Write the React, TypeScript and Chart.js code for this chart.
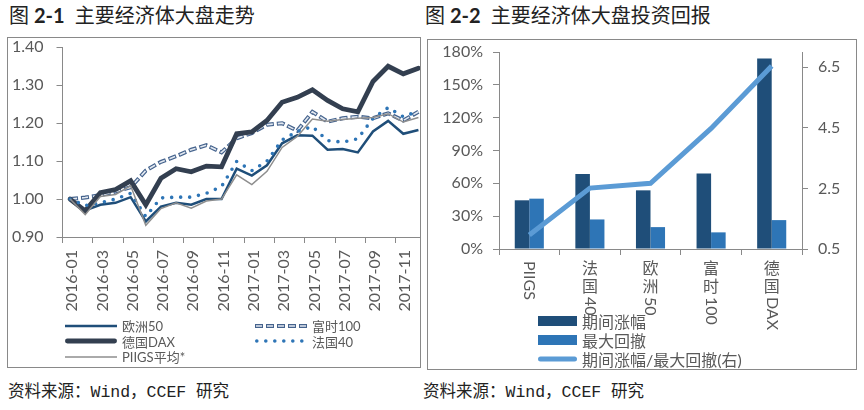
import React, { useEffect, useRef } from 'react';
import { Chart, registerables } from 'chart.js';

Chart.register(...registerables);

// ---------- Data: chart 2-1 (index levels, 2016-01 = 1.00) ----------
const months = [
  '2016-01', '2016-02', '2016-03', '2016-04', '2016-05', '2016-06',
  '2016-07', '2016-08', '2016-09', '2016-10', '2016-11', '2016-12',
  '2017-01', '2017-02', '2017-03', '2017-04', '2017-05', '2017-06',
  '2017-07', '2017-08', '2017-09', '2017-10', '2017-11', '2017-12',
];
const euro50 = [1.00, 0.970, 0.985, 0.990, 1.005, 0.941, 0.980, 0.990, 0.985, 1.000, 1.000, 1.080,
  1.062, 1.089, 1.147, 1.168, 1.167, 1.130, 1.132, 1.123, 1.178, 1.206, 1.172, 1.182];
const ftse100 = [1.00, 1.004, 1.010, 1.020, 1.031, 1.075, 1.098, 1.113, 1.130, 1.142, 1.123, 1.160,
  1.174, 1.196, 1.200, 1.180, 1.230, 1.204, 1.213, 1.217, 1.213, 1.226, 1.207, 1.230];
const daxIndex = [1.00, 0.969, 1.017, 1.025, 1.048, 0.985, 1.055, 1.080, 1.072, 1.087, 1.085, 1.172,
  1.177, 1.207, 1.255, 1.268, 1.288, 1.260, 1.238, 1.230, 1.310, 1.350, 1.330, 1.345];
const cac40 = [1.00, 0.983, 0.990, 1.000, 1.015, 0.954, 1.003, 1.005, 1.005, 1.015, 1.033, 1.099,
  1.075, 1.100, 1.156, 1.178, 1.191, 1.154, 1.150, 1.159, 1.213, 1.241, 1.217, 1.232];
const piigsAvg = [1.00, 0.959, 1.007, 1.012, 1.035, 0.931, 0.975, 0.990, 0.976, 0.995, 1.000, 1.064,
  1.038, 1.073, 1.136, 1.165, 1.211, 1.205, 1.210, 1.213, 1.215, 1.225, 1.203, 1.215];

// ---------- Data: chart 2-2 ----------
const retCategories = ['PIIGS', '法国40', '欧洲50', '富时100', '德国DAX'];
const periodGain = [44.5, 68.5, 53.6, 69.0, 174.0]; // %
const maxDrawdown = [46.0, 27.0, 20.0, 15.2, 26.4]; // %
const gainToDrawdown = [0.96, 2.51, 2.67, 4.48, 6.54];
const rightAxisTicks = [0.5, 2.5, 4.5, 6.5];

// ---------- Styles ----------
const AXIS = '#898989';
const TXT = '#595959';
const LATIN = 'Lato, "Noto Sans", "Noto Sans CJK SC", sans-serif';
const CJK = '"Noto Sans CJK SC", sans-serif';

type LineStyle = {
  label: string; data: number[]; color: string; width: number;
  dash: number[]; cap: CanvasLineCap; order: number;
  inner?: { color: string; width: number; dash: number[]; offset: number };
};

const trendSeries: LineStyle[] = [
  { label: '欧洲50', data: euro50, color: '#1F4E79', width: 2.5, dash: [], cap: 'butt', order: 5 },
  { label: '富时100', data: ftse100, color: '#45638D', width: 4, dash: [8, 3], cap: 'butt', order: 4,
    inner: { color: '#E2E8F0', width: 1.6, dash: [6, 5], offset: -1 } },
  { label: '德国DAX', data: daxIndex, color: '#333F50', width: 4.8, dash: [], cap: 'round', order: 3 },
  { label: '法国40', data: cac40, color: '#2E75B6', width: 3.6, dash: [0, 9], cap: 'round', order: 2 },
  { label: 'PIIGS平均*', data: piigsAvg, color: '#8E8E8E', width: 1.5, dash: [], cap: 'butt', order: 1 },
];

const legendSlots = [
  { idx: 0, col: 0, row: 0 }, { idx: 1, col: 1, row: 0 },
  { idx: 2, col: 0, row: 1 }, { idx: 3, col: 1, row: 1 },
  { idx: 4, col: 0, row: 2 },
];

const innerStrokePlugin = {
  id: 'innerStroke',
  afterDatasetDraw(chart: any, args: any) {
    const s = trendSeries.find((t) => t.label === chart.data.datasets[args.index].label);
    if (!s || !s.inner) return;
    const pts = args.meta.data;
    const ctx: CanvasRenderingContext2D = chart.ctx;
    const a = chart.chartArea;
    ctx.save();
    ctx.beginPath();
    ctx.rect(a.left, a.top - 4, a.right - a.left, a.bottom - a.top + 8);
    ctx.clip();
    ctx.beginPath();
    pts.forEach((p: any, i: number) => (i ? ctx.lineTo(p.x, p.y) : ctx.moveTo(p.x, p.y)));
    ctx.setLineDash(s.inner.dash);
    ctx.lineDashOffset = s.inner.offset;
    ctx.strokeStyle = s.inner.color;
    ctx.lineWidth = s.inner.width;
    ctx.lineJoin = 'miter';
    ctx.stroke();
    ctx.restore();
  },
};

const stackedLabelsPlugin = {
  id: 'stackedLabels',
  afterDraw(chart: any) {
    const xs = chart.scales.x;
    const ctx: CanvasRenderingContext2D = chart.ctx;
    ctx.save();
    ctx.font = '16px ' + LATIN;
    ctx.fillStyle = TXT;
    retCategories.forEach((lab, i) => {
      const x = xs.getPixelForValue(i);
      let y = xs.top + 12;
      const runs = lab.match(/[\u4e00-\u9fff]|[^\u4e00-\u9fff]+/g) || [];
      runs.forEach((run) => {
        if (/[\u4e00-\u9fff]/.test(run)) {
          ctx.textAlign = 'center';
          ctx.textBaseline = 'top';
          ctx.fillText(run, x, y);
          y += 18;
        } else {
          const w = ctx.measureText(run).width;
          ctx.save();
          ctx.translate(x, y);
          ctx.rotate(Math.PI / 2);
          ctx.textAlign = 'left';
          ctx.textBaseline = 'middle';
          ctx.fillText(run, 0, 0);
          ctx.restore();
          y += w;
        }
      });
    });
    ctx.restore();
  },
};

function LineSample({ s, w }: { s: LineStyle; w: number }) {
  return (
    <svg width={w} height={10} style={{ display: 'block', flex: 'none' }}>
      <line x1={s.cap === 'round' ? s.width / 2 : 0} y1={5} x2={s.cap === 'round' ? w - s.width / 2 : w} y2={5}
        stroke={s.color} strokeWidth={s.width}
        strokeDasharray={s.dash.length ? s.dash.join(' ') : undefined}
        strokeLinecap={s.cap} />
      {s.inner && (
        <line x1={0} y1={5} x2={w} y2={5} stroke={s.inner.color} strokeWidth={s.inner.width}
          strokeDasharray={s.inner.dash.join(' ')} strokeDashoffset={s.inner.offset} />
      )}
    </svg>
  );
}

export default function App() {
  const leftRef = useRef<HTMLCanvasElement>(null);
  const rightRef = useRef<HTMLCanvasElement>(null);

  useEffect(() => {
    const tickFont = { family: LATIN, size: 16 };
    const fixVertical = (w: number) => (sc: any) => { sc.width = w; sc.paddingTop = 0; sc.paddingBottom = 0; };
    const fixHorizontal = (h: number) => (sc: any) => { sc.height = h; sc.paddingLeft = 0; sc.paddingRight = 0; };

    const c1 = new Chart(leftRef.current as HTMLCanvasElement, {
      type: 'line',
      data: {
        labels: months,
        datasets: trendSeries.map((s) => ({
          label: s.label,
          data: s.data,
          borderColor: s.color,
          backgroundColor: s.color,
          borderWidth: s.width,
          borderDash: s.dash,
          borderCapStyle: s.cap,
          pointRadius: 0,
          tension: 0,
          fill: false,
          order: s.order,
        })),
      },
      options: {
        animation: false,
        responsive: false,
        maintainAspectRatio: false,
        layout: { padding: { left: 0, right: 12, top: 9.3, bottom: 0 } },
        plugins: { legend: { display: false }, tooltip: { enabled: false } },
        scales: {
          x: {
            type: 'category',
            offset: true,
            grid: {
              offset: true, drawOnChartArea: false, tickLength: 6,
              color: (ctx: any) => (typeof ctx.index === 'number' && ctx.index % 2 === 0 ? AXIS : 'rgba(0,0,0,0)'),
            },
            border: { display: true, color: AXIS, width: 1 },
            ticks: {
              autoSkip: false, maxRotation: 90, minRotation: 90, padding: 7, labelOffset: 2,
              color: TXT, font: tickFont,
              callback: (_v: any, i: number) => (i % 2 === 0 ? months[i] : ''),
            },
            afterFit: fixHorizontal(130),
          },
          y: {
            min: 0.9, max: 1.4,
            ticks: { stepSize: 0.1, padding: 13, color: TXT, font: tickFont,
              callback: (v: any) => Number(v).toFixed(2) },
            grid: { drawOnChartArea: false, tickLength: 6, color: AXIS },
            border: { display: true, color: AXIS, width: 1 },
            afterFit: fixVertical(54.5),
          },
        },
      },
      plugins: [innerStrokePlugin],
    } as any);

    const c2 = new Chart(rightRef.current as HTMLCanvasElement, {
      type: 'bar',
      data: {
        labels: retCategories,
        datasets: [
          { type: 'bar', label: '期间涨幅', data: periodGain, backgroundColor: '#1F4E79', yAxisID: 'y',
            categoryPercentage: 0.48, barPercentage: 1, order: 1 },
          { type: 'bar', label: '最大回撤', data: maxDrawdown, backgroundColor: '#2E75B6', yAxisID: 'y',
            categoryPercentage: 0.48, barPercentage: 1, order: 1 },
          { type: 'line', label: '期间涨幅/最大回撤(右)', data: gainToDrawdown, borderColor: '#5B9BD5',
            backgroundColor: '#5B9BD5', borderWidth: 5, pointRadius: 0, tension: 0, yAxisID: 'y1',
            borderCapStyle: 'butt', order: 0 },
        ],
      },
      options: {
        animation: false,
        responsive: false,
        maintainAspectRatio: false,
        layout: { padding: { left: 0, right: 0, top: 12, bottom: 0 } },
        plugins: { legend: { display: false }, tooltip: { enabled: false } },
        scales: {
          x: {
            type: 'category',
            offset: true,
            grid: { offset: true, drawOnChartArea: false, tickLength: 6, color: AXIS },
            border: { display: true, color: AXIS, width: 1 },
            ticks: { display: false },
            afterFit: fixHorizontal(120),
          },
          y: {
            position: 'left',
            min: 0, max: 180,
            ticks: { stepSize: 30, padding: 10, color: TXT, font: tickFont,
              callback: (v: any) => v + '%' },
            grid: { drawOnChartArea: false, tickLength: 6, color: AXIS },
            border: { display: true, color: AXIS, width: 1 },
            afterFit: fixVertical(71),
          },
          y1: {
            position: 'right',
            min: 0.5, max: 7,
            afterBuildTicks: (axis: any) => { axis.ticks = rightAxisTicks.map((v) => ({ value: v })); },
            ticks: { padding: 10, color: TXT, font: tickFont,
              callback: (v: any) => Number(v).toFixed(1) },
            grid: { drawOnChartArea: false, tickLength: 6, color: AXIS },
            border: { display: true, color: AXIS, width: 1 },
            afterFit: fixVertical(54),
          },
        },
      },
      plugins: [stackedLabelsPlugin],
    } as any);

    return () => { c1.destroy(); c2.destroy(); };
  }, []);

  const titleStyle: React.CSSProperties = {
    position: 'absolute', top: 4, fontSize: 20, lineHeight: '22px', fontFamily: CJK,
    color: '#222', whiteSpace: 'nowrap',
  };
  const sourceStyle: React.CSSProperties = {
    position: 'absolute', top: 382, fontSize: 16.5, lineHeight: '22px',
    fontFamily: '"Liberation Mono", "Noto Sans CJK SC", monospace', color: '#222', whiteSpace: 'nowrap',
  };
  const boxStyle: React.CSSProperties = {
    position: 'absolute', border: '1px solid ' + AXIS, boxSizing: 'border-box', overflow: 'hidden',
    background: '#fff',
  };

  const rightLegend = [
    { label: '期间涨幅', kind: 'rect', color: '#1F4E79' },
    { label: '最大回撤', kind: 'rect', color: '#2E75B6' },
    { label: '期间涨幅/最大回撤(右)', kind: 'line', color: '#5B9BD5' },
  ];

  return (
    <div style={{ position: 'absolute', left: 0, top: 0, width: 864, height: 410, background: '#fff', overflow: 'hidden' }}>
      <div style={{ ...titleStyle, left: 9 }}>
        图<span style={{ fontFamily: LATIN, fontWeight: 700, marginLeft: 5 }}>2-1</span>
        <span style={{ marginLeft: 10 }}>主要经济体大盘走势</span>
      </div>
      <div style={{ ...titleStyle, left: 425 }}>
        图<span style={{ fontFamily: LATIN, fontWeight: 700, marginLeft: 5 }}>2-2</span>
        <span style={{ marginLeft: 10 }}>主要经济体大盘投资回报</span>
      </div>

      {/* Left chart */}
      <div style={{ ...boxStyle, left: 7, top: 37, width: 414, height: 331 }}>
        <canvas ref={leftRef} width={430} height={329} style={{ display: 'block', position: 'absolute', left: 0, top: 0 }} />
        {legendSlots.map(({ idx, col, row }) => {
          const s = trendSeries[idx];
          return (
            <div key={s.label} style={{
              position: 'absolute', left: 65 - 8 + col * 190, top: 318 - 38 + row * 15.5, height: 15.5,
              display: 'flex', alignItems: 'center', fontSize: 13, fontFamily: LATIN, color: TXT, whiteSpace: 'nowrap',
            }}>
              <LineSample s={s} w={52} />
              <span style={{ marginLeft: 5 }}>{s.label}</span>
            </div>
          );
        })}
      </div>

      {/* Right chart */}
      <div style={{ ...boxStyle, left: 427, top: 39, width: 430, height: 331 }}>
        <canvas ref={rightRef} width={428} height={329} style={{ display: 'block', position: 'absolute', left: 0, top: 0 }} />
        {rightLegend.map((it, r) => (
          <div key={it.label} style={{
            position: 'absolute', left: 538 - 428, top: 311 - 40 + r * 19, height: 19,
            display: 'flex', alignItems: 'center', fontSize: 16, fontFamily: LATIN, color: TXT, whiteSpace: 'nowrap',
          }}>
            {it.kind === 'rect' ? (
              <div style={{ width: 39, height: 10, background: it.color, flex: 'none' }} />
            ) : (
              <svg width={39} height={10} style={{ display: 'block', flex: 'none' }}>
                <line x1={2.5} y1={5} x2={36.5} y2={5} stroke={it.color} strokeWidth={5} strokeLinecap="round" />
              </svg>
            )}
            <span style={{ marginLeft: 5 }}>{it.label}</span>
          </div>
        ))}
      </div>

      <div style={{ ...sourceStyle, left: 8 }}>资料来源：Wind，CCEF 研究</div>
      <div style={{ ...sourceStyle, left: 423 }}>资料来源：Wind，CCEF 研究</div>
    </div>
  );
}
